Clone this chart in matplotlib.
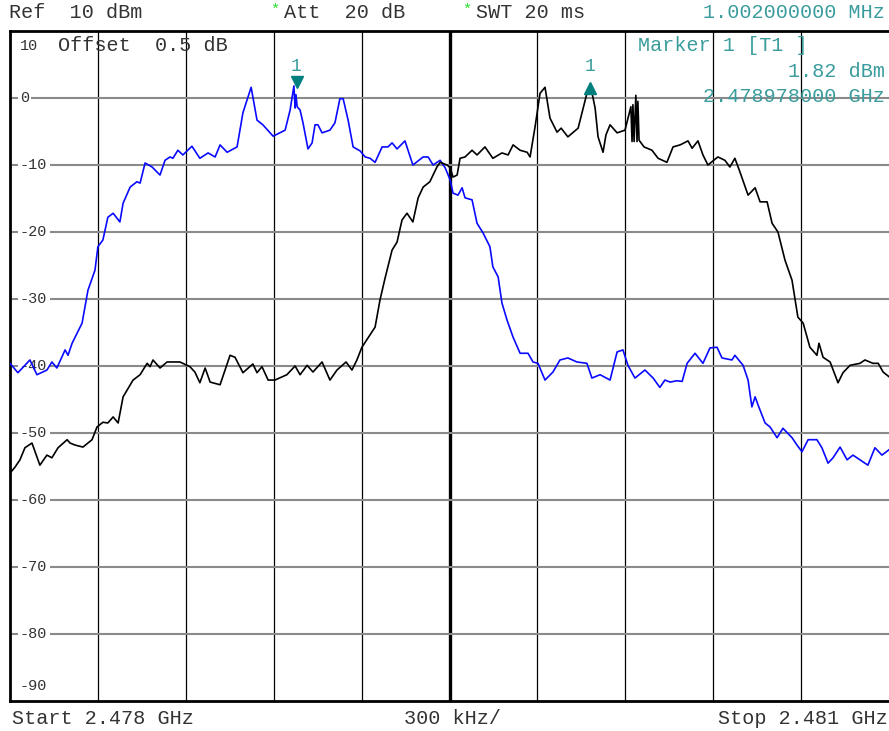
import matplotlib
matplotlib.use('Agg')
import matplotlib.pyplot as plt
from matplotlib.transforms import offset_copy, blended_transform_factory

# frequency offset from start (kHz) and level (dBm)
blue_khz = [0, 27, 68, 92, 126, 143, 160, 188, 198, 212, 246, 266, 290, 300, 317, 334, 352, 375, 386,
            410, 433, 444, 461, 485, 512, 529, 546, 556, 573, 590, 621, 648, 676, 700, 717, 741, 775,
            795, 823, 843, 863, 898, 939, 956, 969, 973, 976, 980, 990, 1000, 1017, 1031, 1041, 1051,
            1065, 1092, 1109, 1126, 1137, 1154, 1171, 1195, 1212, 1229, 1246, 1270, 1290, 1304, 1321,
            1348, 1375, 1410, 1427, 1444, 1468, 1485, 1502, 1512, 1529, 1543, 1553, 1577, 1594, 1614,
            1638, 1648, 1666, 1679, 1696, 1717, 1741, 1768, 1785, 1802, 1826, 1853, 1877, 1904, 1935,
            1969, 1986, 2014, 2048, 2072, 2092, 2109, 2133, 2167, 2195, 2218, 2235, 2253, 2276, 2294,
            2311, 2338, 2365, 2389, 2413, 2430, 2464, 2474, 2502, 2519, 2532, 2543, 2553, 2577, 2594,
            2618, 2638, 2669, 2686, 2703, 2724, 2754, 2771, 2792, 2809, 2833, 2857, 2877, 2901, 2928,
            2952, 2976, 3000]
blue_db = [-39.6, -41.0, -39.1, -41.3, -40.6, -39.4, -40.3, -37.6, -38.4, -36.6, -33.6, -28.7, -25.7,
           -22.2, -21.2, -17.8, -17.2, -18.5, -15.7, -13.3, -12.5, -12.7, -9.7, -10.3, -11.5, -9.3,
           -8.8, -9.0, -7.8, -8.5, -7.2, -9.0, -8.2, -8.8, -7.0, -8.1, -7.3, -2.2, 1.6, -3.3, -4.0,
           -5.7, -4.8, -1.8, 1.8, -1.5, 0.5, -1.3, -1.8, -3.7, -7.6, -6.7, -4.0, -4.0, -5.2, -4.8,
           -3.7, -0.1, -0.1, -3.3, -7.3, -7.9, -8.8, -9.0, -9.6, -7.3, -7.3, -6.7, -7.6, -6.4, -10.0,
           -8.8, -8.8, -10.0, -9.3, -10.4, -12.2, -14.2, -14.5, -13.4, -14.9, -15.2, -18.7, -20.1,
           -22.2, -25.2, -26.7, -30.6, -33.1, -35.7, -38.1, -38.1, -39.4, -39.6, -42.1, -40.9, -39.1,
           -38.8, -39.4, -39.6, -41.8, -41.3, -42.1, -37.9, -37.6, -39.9, -41.8, -40.6, -41.8, -43.2,
           -42.1, -42.4, -42.2, -42.3, -39.6, -38.1, -39.6, -37.3, -37.2, -38.8, -39.1, -38.4, -39.9,
           -42.1, -46.1, -44.6, -45.8, -48.5, -49.1, -50.7, -49.3, -50.7, -51.8, -52.8, -51.0, -51.0,
           -52.2, -54.5, -53.7, -52.1, -54.0, -53.3, -54.0, -54.8, -52.2, -53.3, -52.5]

black_khz = [0, 17, 34, 51, 75, 102, 126, 143, 164, 195, 205, 222, 249, 280, 297, 317, 334, 352, 369,
             386, 420, 444, 468, 478, 488, 512, 536, 556, 580, 614, 631, 648, 666, 683, 717, 734, 751,
             768, 795, 829, 843, 860, 881, 904, 945, 973, 990, 1014, 1034, 1065, 1092, 1116, 1147,
             1167, 1184, 1201, 1222, 1246, 1263, 1280, 1304, 1321, 1338, 1355, 1375, 1393, 1410, 1433,
             1457, 1468, 1492, 1502, 1512, 1526, 1536, 1553, 1577, 1594, 1621, 1648, 1679, 1700, 1717,
             1741, 1765, 1775, 1792, 1809, 1826, 1843, 1867, 1881, 1904, 1939, 1969, 1983, 1997, 2007,
             2024, 2034, 2048, 2072, 2099, 2119, 2123, 2126, 2130, 2136, 2140, 2143, 2147, 2164, 2191,
             2212, 2242, 2263, 2287, 2314, 2328, 2348, 2365, 2382, 2416, 2440, 2457, 2474, 2491, 2519,
             2543, 2560, 2584, 2601, 2621, 2645, 2669, 2689, 2707, 2730, 2754, 2761, 2775, 2799, 2826,
             2843, 2867, 2901, 2918, 2945, 2963, 2980, 3000]
black_db = [-56.0, -55.1, -54.0, -52.2, -51.5, -54.8, -53.3, -53.7, -52.2, -51.0, -51.5, -51.8, -52.1,
            -51.0, -49.1, -48.4, -48.5, -47.6, -48.5, -44.6, -42.1, -41.3, -39.6, -40.1, -39.1, -40.3,
            -39.4, -39.4, -39.4, -40.1, -40.9, -42.5, -40.3, -42.4, -42.8, -40.6, -38.4, -38.7, -41.0,
            -39.7, -41.0, -40.1, -42.1, -42.1, -41.3, -40.0, -41.3, -39.9, -40.9, -39.4, -42.1, -40.6,
            -39.4, -40.6, -39.1, -37.2, -35.8, -34.2, -30.1, -26.9, -22.7, -21.5, -18.2, -17.2, -18.5,
            -14.9, -13.3, -12.5, -10.3, -9.6, -10.0, -10.4, -11.8, -11.5, -9.0, -8.8, -7.8, -8.5, -7.3,
            -9.0, -8.2, -8.5, -7.0, -7.8, -8.1, -8.8, -4.3, 0.7, 1.6, -3.0, -5.1, -4.5, -5.8, -4.5, 0.7,
            1.5, -1.5, -5.8, -8.1, -5.5, -4.0, -5.2, -4.8, -1.3, -6.5, -1.0, -6.5, 0.4, -6.5, -0.5, -6.3,
            -7.3, -7.8, -9.0, -9.6, -7.3, -7.0, -6.4, -7.5, -6.4, -8.5, -10.0, -8.8, -9.3, -10.3, -9.0,
            -11.0, -14.5, -13.4, -15.5, -15.5, -18.7, -20.0, -24.2, -27.2, -32.7, -33.6, -37.2, -38.4,
            -36.6, -38.7, -39.4, -42.5, -41.0, -39.9, -39.6, -39.1, -39.6, -39.6, -40.9, -41.6]

start_ghz = 2.478
marker_blue_khz = 978
marker_black_khz = 1980
marker_level = 1.82
level_ticks = [0, -10, -20, -30, -40, -50, -60, -70, -80]

teal = '#3a9c9c'
mono = 'Liberation Mono'

blue_f = [start_ghz + k * 1e-6 for k in blue_khz]
black_f = [start_ghz + k * 1e-6 for k in black_khz]

fig = plt.figure(figsize=(8.89, 7.31), dpi=100)
ax = fig.add_axes([10 / 889, 30 / 731, 879 / 889, 670 / 731])
ax.set_xlim(start_ghz, start_ghz + 0.003)
ax.set_ylim(-90, 10)

# grid
for i in range(1, 10):
    xg = start_ghz + i * 0.0003
    ax.axvline(xg, color='black', lw=2.4 if i == 5 else 0.9, zorder=1)
for yv in level_ticks:
    ax.axhline(yv, color='#8a8a8a', lw=1.5, zorder=1)
ax.set_xticks([])
ax.set_yticks([])
for s in ['left', 'top', 'bottom']:
    ax.spines[s].set_linewidth(2)
ax.spines['right'].set_visible(False)

ax.plot(blue_f, blue_db, color='#0a0aff', lw=1.2, zorder=3)
ax.plot(black_f, black_db, color='black', lw=1.2, zorder=3)

# level labels (below the traces, over the grid)
tr = blended_transform_factory(ax.transAxes, ax.transData)
for yv in level_ticks:
    ax.text(10 / 879, yv, str(yv), transform=tr, fontsize=11, family=mono, va='center', ha='left',
            color='#333333', zorder=2, bbox=dict(facecolor='white', edgecolor='none', pad=1.5))
ax.text(10 / 879, 7.8, '10', transform=tr, fontsize=11, family=mono, va='center', color='#333333')
ax.text(10 / 879, -87.7, '-90', transform=tr, fontsize=11, family=mono, va='center', color='#333333')
ax.text(48 / 879, 7.8, 'Offset  0.5 dB', transform=tr, fontsize=14.5, family=mono, va='center',
        color='#333333')

# markers
bx = start_ghz + marker_blue_khz * 1e-6
kx = start_ghz + marker_black_khz * 1e-6
ax.plot([bx], [marker_level], marker='v', color='#007f7f', ms=9, zorder=5,
        transform=offset_copy(ax.transData, fig=fig, x=0, y=4, units='dots'))
ax.plot([kx], [marker_level], marker='^', color='#007f7f', ms=9, zorder=5,
        transform=offset_copy(ax.transData, fig=fig, x=0, y=-2, units='dots'))
for mx in [bx, kx]:
    ax.text(mx, marker_level, '1', fontsize=13, family=mono, color=teal, ha='center', va='center',
            transform=offset_copy(ax.transData, fig=fig, x=0, y=19, units='dots'))

ax.text(628 / 879, 7.8, 'Marker 1 [T1 ]', transform=tr, fontsize=14.5, family=mono, color=teal,
        va='center')
ax.text(875 / 879, 4.0, '1.82 dBm', transform=tr, fontsize=14.5, family=mono, color=teal,
        va='center', ha='right')
ax.text(875 / 879, 0.2, '2.478978000 GHz', transform=tr, fontsize=14.5, family=mono, color=teal,
        va='center', ha='right')

# header and footer
def ftxt(x, y, s, color='#333333', ha='left', size=14.5):
    fig.text(x / 889, 1 - y / 731, s, fontsize=size, family=mono, color=color, ha=ha, va='center')

ftxt(9, 12, 'Ref  10 dBm')
ftxt(270, 10, '*', color='#22dd22', size=11)
ftxt(284, 12, 'Att  20 dB')
ftxt(462, 10, '*', color='#22dd22', size=11)
ftxt(476, 12, 'SWT 20 ms')
ftxt(885, 12, '1.002000000 MHz', color=teal, ha='right')
ftxt(12, 719, 'Start 2.478 GHz')
ftxt(404, 719, '300 kHz/')
ftxt(888, 719, 'Stop 2.481 GHz', ha='right')

fig.savefig('out.png', dpi=100, facecolor='white')
